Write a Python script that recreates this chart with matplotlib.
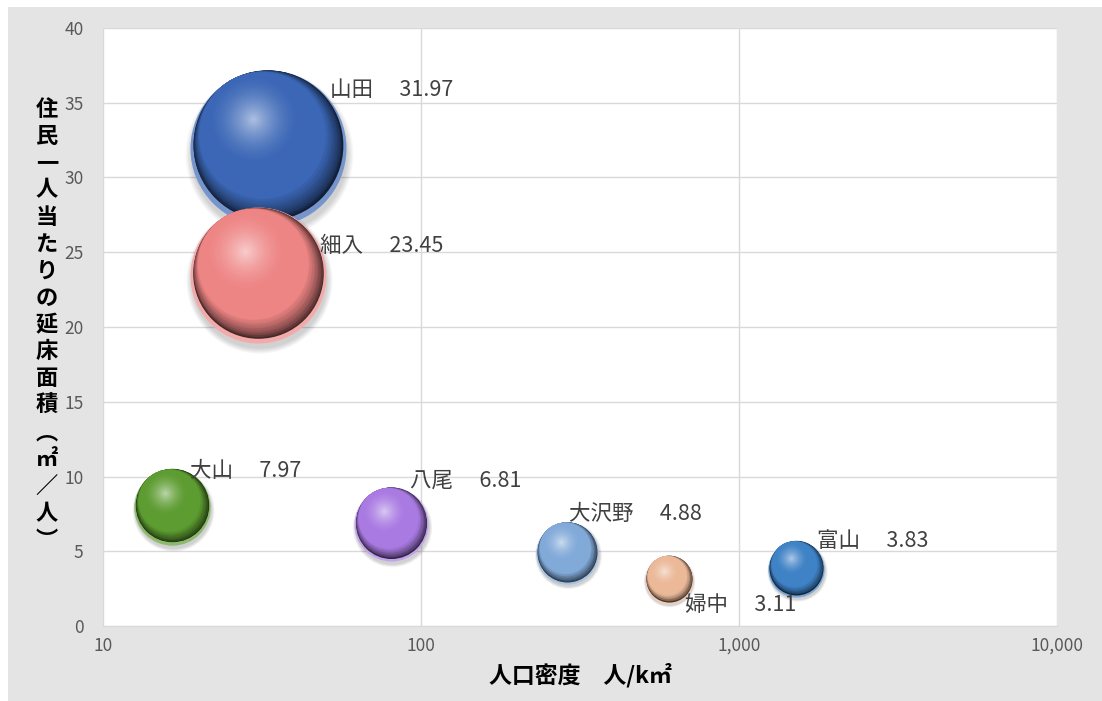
import numpy as np
import matplotlib
matplotlib.use('Agg')
import matplotlib.pyplot as plt
from matplotlib.colors import to_rgb
from matplotlib.patches import Rectangle
from matplotlib.transforms import ScaledTranslation
from matplotlib.ticker import FixedLocator, FuncFormatter, NullLocator

plt.rcParams['font.family'] = ['Noto Sans CJK JP', 'DejaVu Sans']

# data
areas = ['山田', '細入', '大山', '八尾', '大沢野', '婦中', '富山']
density = [33, 30.7, 16.5, 80.5, 288, 602, 1514]          # 人/km2
floor_area = [31.97, 23.45, 7.97, 6.81, 4.88, 3.11, 3.83]  # m2 per person
bubble_size = [100, 76, 24, 22.5, 16, 9.5, 13]
base_colors = ['#3b67b6', '#ee8585', '#5d9c31', '#a97be2', '#82aad9', '#ebb998', '#3f82c6']
# label offsets from bubble centre (pixels, +y is up)
label_dx = [62, 62, 18, 19, 2, 16, 21]
label_dy = [58, 29, 36, 43, 39, -25, 28]

DPI = 100
W, H = 1102, 701
fig = plt.figure(figsize=(W / DPI, H / DPI), dpi=DPI)
fig.patch.set_facecolor('white')
fig.patches.append(Rectangle((8 / W, 0), 1 - 8 / W, 1 - 7 / H, transform=fig.transFigure,
                             facecolor='#e4e4e4', edgecolor='none', zorder=-10))

ax = fig.add_axes([103 / W, 75 / H, 954 / W, 598 / H])
ax.set_facecolor('white')
ax.set_xscale('log')


def mix(c1, c2, t):
    c1, c2 = np.array(to_rgb(c1)), np.array(to_rgb(c2))
    return tuple(c1 * (1 - t) + c2 * t)


def disc(x, y, dx, dy, rad, col, z, alpha=1.0):
    tr = ax.transData + ScaledTranslation(dx / 72, dy / 72, fig.dpi_scale_trans)
    ax.scatter([x], [y], s=(2 * rad) ** 2, color=col, alpha=alpha, linewidths=0,
               transform=tr, zorder=z)


def sphere(x, y, r, color, z):
    # soft shadow
    for k in range(6):
        disc(x, y, 0.02 * r, -0.07 * r, r * (1.0 + 0.015 * k), '#000000', z, alpha=0.03)
    # light reflection rim at the bottom
    disc(x, y, 0, 0, r, mix(color, 'white', 0.3), z + 0.01)
    dark = mix(color, 'black', 0.7)
    highlight = mix(color, 'white', 0.6)
    R = 0.96 * r
    oy = 0.04 * r
    fx, fy = -0.2 * R, 0.34 * R
    fl = np.hypot(fx, fy)
    # dark crescent on the lower right, fading into the base colour
    n1 = 36
    for i, t in enumerate(np.linspace(0, 1, n1)):
        rad = R - t * fl
        col = mix(dark, color, min(1, t / 0.4) ** 0.7)
        disc(x, y, fx * t, oy + fy * t, rad, col, z + 0.02 + i * 0.001)
    # soft specular spot around the focal point
    r0 = R - fl
    n2 = 30
    for i, s in enumerate(np.linspace(1, 0.04, n2)):
        col = mix(color, highlight, (1 - s) ** 1.6)
        disc(x, y, fx, oy + fy, r0 * s, col, z + 0.1 + i * 0.001)


px_to_pt = 72 / DPI
for i, name in enumerate(areas):
    r_px = 78 * np.sqrt(bubble_size[i] / 100)
    sphere(density[i], floor_area[i], r_px * px_to_pt, base_colors[i], 3 + i)

for i, name in enumerate(areas):
    ax.annotate(f'{name}　 {floor_area[i]:.2f}', (density[i], floor_area[i]),
                xytext=(label_dx[i] * px_to_pt, label_dy[i] * px_to_pt), textcoords='offset points',
                ha='left', va='center', fontsize=15.5, color='#404040', zorder=20)

ax.set_xlim(10, 10000)
ax.set_ylim(0, 40)
ax.xaxis.set_major_locator(FixedLocator([10, 100, 1000, 10000]))
ax.xaxis.set_minor_locator(NullLocator())
ax.xaxis.set_major_formatter(FuncFormatter(lambda v, p: f'{v:,.0f}'))
ax.set_yticks(np.arange(0, 41, 5))
ax.grid(True, color='#d9d9d9', linewidth=1)
ax.set_axisbelow(True)
for sp in ['top', 'right', 'left']:
    ax.spines[sp].set_visible(False)
ax.spines['bottom'].set_color('#d9d9d9')
ax.tick_params(axis='both', length=0, labelsize=12.5, labelcolor='#595959')
ax.tick_params(axis='y', pad=14)
ax.tick_params(axis='x', pad=8)

ax.set_xlabel('人口密度　人/k㎡', fontsize=16.5, fontweight='bold', color='#000000', labelpad=6)

ylab = '住民一人当たりの延床面積︵㎡／人︶'
fig.text(47 / W, 1 - 325 / H, '\n'.join(ylab), ha='center', va='center', fontsize=16,
         fontweight='bold', linespacing=1.22, color='#000000')

fig.savefig('out.png', dpi=DPI)
